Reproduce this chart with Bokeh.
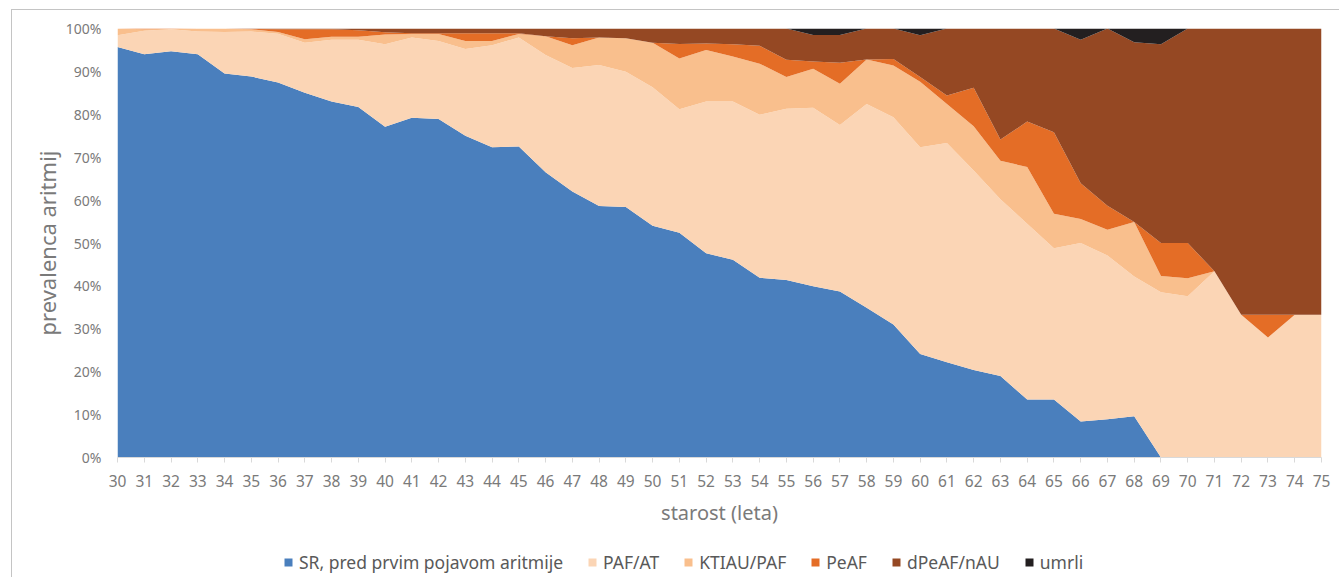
from bokeh.plotting import figure
from bokeh.layouts import column
from bokeh.models import ColumnDataSource, FixedTicker, Legend, LegendItem, Range1d
from bokeh.embed import file_html
from bokeh.resources import INLINE

ages = list(range(30, 76))

sr = [95.7, 94.0, 94.7, 94.0, 89.5, 88.8, 87.4, 85.0, 83.0, 81.7,
      77.1, 79.2, 78.9, 75.0, 72.3, 72.5, 66.5, 62.0, 58.6, 58.4,
      54.0, 52.4, 47.6, 46.1, 41.9, 41.4, 39.9, 38.7, 34.9, 31.0,
      24.1, 22.2, 20.4, 19.0, 13.5, 13.5, 8.4, 8.9, 9.6, 0.0,
      0.0, 0.0, 0.0, 0.0, 0.0, 0.0]
paf = [2.7, 5.5, 5.1, 5.3, 9.7, 10.5, 11.4, 11.7, 14.4, 15.7,
       19.2, 18.7, 18.2, 20.2, 23.8, 25.4, 27.3, 28.8, 32.9, 31.5,
       32.3, 28.8, 35.4, 36.9, 38.0, 39.9, 41.6, 38.8, 47.5, 48.3,
       48.2, 51.1, 46.5, 41.2, 41.0, 35.3, 41.6, 38.2, 32.6, 38.5,
       37.6, 43.4, 33.3, 28.0, 33.3, 33.3]
ktiau = [1.6, 0.3, 0.1, 0.7, 0.8, 0.5, 0.4, 0.8, 0.7, 0.7,
         2.3, 0.8, 1.6, 1.9, 1.0, 0.8, 4.4, 5.3, 6.4, 7.8,
         10.4, 11.8, 12.0, 10.5, 11.9, 7.4, 9.1, 9.6, 10.4, 12.1,
         15.3, 9.1, 10.3, 9.0, 13.2, 8.0, 5.6, 6.0, 12.7, 3.8,
         4.2, 0.0, 0.0, 0.0, 0.0, 0.0]
peaf = [0.0, 0.2, 0.1, 0.0, 0.0, 0.1, 0.6, 2.3, 1.7, 1.5,
        0.5, 0.2, 0.2, 1.8, 1.8, 0.2, 0.0, 1.6, 0.0, 0.0,
        0.0, 3.4, 1.5, 2.8, 4.2, 4.0, 1.7, 4.9, 0.0, 1.5,
        1.1, 2.0, 9.0, 4.9, 10.6, 19.0, 8.3, 5.6, 0.0, 7.7,
        8.2, 0.0, 0.0, 5.3, 0.0, 0.0]
dpeaf = [0.0, 0.0, 0.0, 0.0, 0.0, 0.1, 0.2, 0.2, 0.2, 0.4,
         0.9, 1.1, 1.1, 1.1, 1.1, 1.1, 1.8, 2.3, 2.1, 2.3,
         3.3, 3.6, 3.5, 3.7, 4.0, 7.3, 6.2, 6.5, 7.2, 7.1,
         9.7, 15.6, 13.8, 25.9, 21.7, 24.2, 33.5, 41.3, 41.9, 46.3,
         50.0, 56.6, 66.7, 66.7, 66.7, 66.7]
umrli = [0.0, 0.0, 0.0, 0.0, 0.0, 0.0, 0.0, 0.0, 0.0, 0.0,
         0.0, 0.0, 0.0, 0.0, 0.0, 0.0, 0.0, 0.0, 0.0, 0.0,
         0.0, 0.0, 0.0, 0.0, 0.0, 0.0, 1.5, 1.5, 0.0, 0.0,
         1.6, 0.0, 0.0, 0.0, 0.0, 0.0, 2.6, 0.0, 3.2, 3.7,
         0.0, 0.0, 0.0, 0.0, 0.0, 0.0]

series_names = ["SR, pred prvim pojavom aritmije", "PAF/AT", "KTIAU/PAF",
                "PeAF", "dPeAF/nAU", "umrli"]
series_keys = ["sr", "paf", "ktiau", "peaf", "dpeaf", "umrli"]
colors = ["#4a7fbd", "#fbd5b5", "#f9bf8d", "#e46d26", "#954823", "#231f20"]

y_ticks = [0, 10, 20, 30, 40, 50, 60, 70, 80, 90, 100]
y_tick_labels = ["0%", "10%", "20%", "30%", "40%", "50%", "60%", "70%",
                 "80%", "90%", "100%"]

source = ColumnDataSource(dict(age=ages, sr=sr, paf=paf, ktiau=ktiau,
                               peaf=peaf, dpeaf=dpeaf, umrli=umrli))

FONT = "Noto Sans"
W = 1327

p = figure(frame_width=1204, frame_height=429,
           x_range=Range1d(30, 75), y_range=Range1d(0, 100),
           output_backend="svg", toolbar_location=None,
           min_border_left=105, min_border_top=18, min_border_right=18,
           min_border_bottom=80)

renderers = p.varea_stack(stackers=series_keys, x="age", color=colors,
                          source=source)

p.outline_line_color = None
p.xgrid.grid_line_color = None
p.ygrid.grid_line_color = None

# x axis
p.xaxis.ticker = FixedTicker(ticks=ages)
p.xaxis.axis_line_color = "#d9d9d9"
p.xaxis.major_tick_line_color = "#d9d9d9"
p.xaxis.major_tick_out = 5
p.xaxis.major_tick_in = 0
p.xaxis.minor_tick_line_color = None
p.xaxis.major_label_text_font = FONT
p.xaxis.major_label_text_font_size = "15.5px"
p.xaxis.major_label_text_color = "#7a7a7a"
p.xaxis.major_label_standoff = 12
p.xaxis.axis_label = "starost (leta)"
p.xaxis.axis_label_text_font = FONT
p.xaxis.axis_label_text_font_style = "normal"
p.xaxis.axis_label_text_font_size = "20px"
p.xaxis.axis_label_text_color = "#7a7a7a"
p.xaxis.axis_label_standoff = 9

# y axis
p.yaxis.ticker = FixedTicker(ticks=y_ticks)
p.yaxis.major_label_overrides = {t: l for t, l in zip(y_ticks, y_tick_labels)}
p.yaxis.axis_line_color = None
p.yaxis.major_tick_line_color = None
p.yaxis.minor_tick_line_color = None
p.yaxis.major_label_text_font = FONT
p.yaxis.major_label_text_font_size = "14px"
p.yaxis.major_label_text_color = "#7a7a7a"
p.yaxis.major_label_standoff = 10
p.yaxis.axis_label = "prevalenca aritmij"
p.yaxis.axis_label_text_font = FONT
p.yaxis.axis_label_text_font_style = "normal"
p.yaxis.axis_label_text_font_size = "22px"
p.yaxis.axis_label_text_color = "#7a7a7a"
p.yaxis.axis_label_standoff = 1

# legend strip (its frame is aligned with the main plot's frame)
p2 = figure(width=W, height=40, x_range=Range1d(0, 1), y_range=Range1d(0, 1),
            output_backend="svg", toolbar_location=None,
            x_axis_location=None, y_axis_location=None, min_border=0)
p2.outline_line_color = None
p2.xgrid.grid_line_color = None
p2.ygrid.grid_line_color = None
swatches = p2.varea_stack(stackers=series_keys, x="age", color=colors,
                          source=source)

legend = Legend(items=[LegendItem(label=n, renderers=[r])
                       for n, r in zip(series_names, swatches)],
                orientation="horizontal", location=(166, 3),
                label_text_font=FONT, label_text_font_size="17.5px",
                label_text_color="#595959",
                glyph_width=10, glyph_height=10, label_standoff=6,
                spacing=24, padding=0, margin=0,
                border_line_color=None, background_fill_alpha=0)
p2.add_layout(legend, "center")

layout = column(p, p2, spacing=0,
                styles={"border-left": "1px solid #c4c4c4",
                        "border-top": "1px solid #c4c4c4",
                        "margin-left": "11px", "margin-top": "9px"})

open("out.html", "w").write(file_html(layout, INLINE))
